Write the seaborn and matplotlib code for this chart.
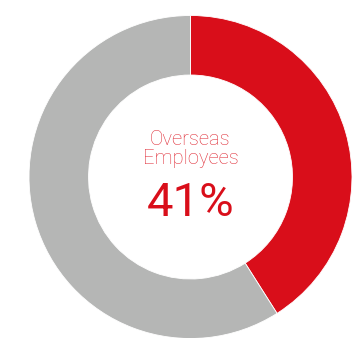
import matplotlib
matplotlib.use("Agg")
import matplotlib.pyplot as plt
import seaborn as sns

# dados do gráfico
categorias = ["Overseas", "Domestic"]
valores = [41, 59]
cores = ["#D90E1A", "#B5B6B5"]
rotulo = "Overseas\nEmployees"
valor_destaque = "41%"

sns.set_theme(style="white")
plt.rcParams["font.family"] = ["Roboto", "DejaVu Sans"]

fig = plt.figure(figsize=(3.61, 3.38), dpi=100)
ax = fig.add_axes([0, 0, 1, 1])

centro = (190.5, 161)
raio = 161.5
ax.pie(valores, colors=cores, startangle=90, counterclock=False,
       radius=raio, center=centro, frame=True,
       wedgeprops=dict(width=59.5, edgecolor="white", linewidth=0.6))
ax.set_xlim(0, 361)
ax.set_ylim(0, 338)
ax.set_aspect("equal")
ax.axis("off")

ax.text(centro[0], 338 - 149, rotulo, ha="center", va="center",
        fontsize=14.5, color="#E0303A", fontweight="light", linespacing=1.0)
ax.text(centro[0], 338 - 203, valor_destaque, ha="center", va="center",
        fontsize=34, color="#D90E1A", fontweight="normal")

plt.savefig("out.png", dpi=100)
